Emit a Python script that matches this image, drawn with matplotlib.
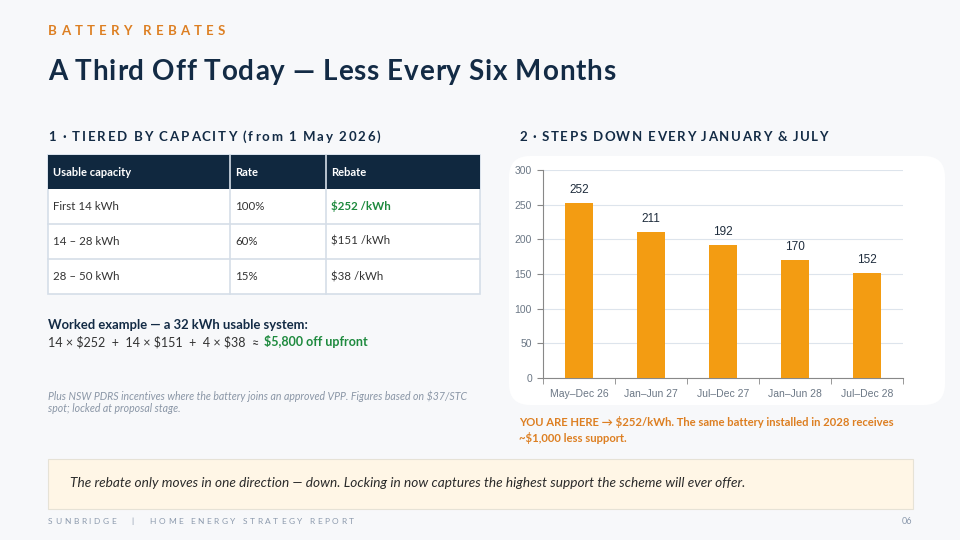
import matplotlib
matplotlib.use('Agg')
import matplotlib.pyplot as plt
from matplotlib.patches import FancyBboxPatch, Rectangle

# data
periods = ['May\u2013Dec 26', 'Jan\u2013Jun 27', 'Jul\u2013Dec 27', 'Jan\u2013Jun 28', 'Jul\u2013Dec 28']
rebates = [252, 211, 192, 170, 152]
table_header = ['Usable capacity', 'Rate', 'Rebate']
table_rows = [['First 14 kWh', '100%', '$252 /kWh'],
              ['14 \u2013 28 kWh', '60%', '$151 /kWh'],
              ['28 \u2013 50 kWh', '15%', '$38 /kWh']]

NAVY = '#132B45'
ORANGE = '#DD7F22'
GREEN = '#1E8A3E'
BAR = '#F39C12'
BG = '#F7F8FA'
FONT = ['Lato', 'DejaVu Sans']

W, H = 960, 540
fig = plt.figure(figsize=(9.6, 5.4), dpi=100, facecolor=BG)
renderer = fig.canvas.get_renderer()


def fx(x):
    return x / W


def fy(y):
    return 1 - y / H


def text(x, y, s, **kw):
    kw.setdefault('family', FONT)
    kw.setdefault('va', 'center')
    return fig.text(fx(x), fy(y), s, **kw)


def spaced(x, y, s, track, **kw):
    # draw text one char at a time with extra letter spacing (px)
    for ch in s:
        t = text(x, y, ch, **kw)
        w = t.get_window_extent(renderer).width
        if ch == ' ':
            w = kw.get('size', 10) * 0.3
        x += w + track
    return x


# header
spaced(48, 31, 'BATTERY REBATES', 4.2, size=9.5, weight='bold', color=ORANGE)
spaced(48, 72, 'A Third Off Today \u2014 Less Every Six Months', 0.9, size=20, weight='bold', color=NAVY)

spaced(48, 137, '1 \u00b7 TIERED BY CAPACITY (from 1 May 2026)', 1.8, size=9.5, weight='bold', color=NAVY)
spaced(519, 137, '2 \u00b7 STEPS DOWN EVERY JANUARY & JULY', 1.5, size=9.5, weight='bold', color=NAVY)

# table
col_x = [48, 230, 326, 480]
row_y = [155, 189, 224, 259, 294]
fig.patches.append(Rectangle((fx(48), fy(294)), fx(432), (294 - 155) / H, transform=fig.transFigure,
                             facecolor='white', edgecolor='#D5DEE8', lw=1.2))
fig.patches.append(Rectangle((fx(48), fy(189)), fx(432), 34 / H, transform=fig.transFigure,
                             facecolor='#10283F', edgecolor='none'))
for y in row_y[2:4]:
    fig.add_artist(plt.Line2D([fx(48), fx(480)], [fy(y), fy(y)], color='#D5DEE8', lw=1.2))
for x in col_x[1:3]:
    fig.add_artist(plt.Line2D([fx(x), fx(x)], [fy(155), fy(294)], color='#D5DEE8', lw=1.2))
for j, h in enumerate(table_header):
    text(col_x[j] + 5, 172, h, size=8, weight='bold', color='white')
for i, row in enumerate(table_rows):
    yc = (row_y[i + 1] + row_y[i + 2]) / 2
    for j, v in enumerate(row):
        if i == 0 and j == 2:
            text(col_x[j] + 5, yc, v, size=8.3, weight='bold', color=GREEN)
        else:
            text(col_x[j] + 5, yc, v, size=8.3, color='#333333')

# worked example
text(48, 325, 'Worked example \u2014 a 32 kWh usable system:', size=9.4, weight='bold', color=NAVY)
t = text(48, 342, '14 \u00d7 $252  +  14 \u00d7 $151  +  4 \u00d7 $38  \u2248 ', size=9, color='#333333')
xe = t.get_window_extent(renderer).x1
fig.text(xe / W + 0.002, fy(342), '$5,800 off upfront', size=9, weight='bold', color=GREEN,
         family=FONT, va='center')

text(48, 396, 'Plus NSW PDRS incentives where the battery joins an approved VPP. Figures based on $37/STC',
     size=7.6, style='italic', color='#8A96A6')
text(48, 409, 'spot; locked at proposal stage.', size=7.6, style='italic', color='#8A96A6')

# chart panel
fig.patches.append(FancyBboxPatch((fx(509), fy(405)), fx(436), (405 - 156) / H,
                                  boxstyle='round,pad=0,rounding_size=0.022', transform=fig.transFigure,
                                  facecolor='white', edgecolor='none', mutation_aspect=W / H, zorder=-1))

ax = fig.add_axes([fx(543), fy(378), fx(360), (378 - 170) / H])
ax.set_zorder(2)
ax.set_facecolor('none')
x = range(len(periods))
ax.bar(x, rebates, width=0.4, color=BAR, zorder=3)
for xi, v in zip(x, rebates):
    ax.text(xi, v + 10, str(v), ha='center', va='bottom', fontsize=8.5, color='#1F2D3D',
            family='Liberation Sans')
ax.set_xlim(-0.5, 4.5)
ax.set_ylim(0, 300)
ax.set_yticks(range(0, 301, 50))
ax.yaxis.grid(True, color='#DDE4EC', lw=0.8, zorder=0)
ax.set_xticks(list(x))
ax.set_xticklabels(periods)
ax.set_xticks([i - 0.5 for i in range(len(periods) + 1)], minor=True)
ax.tick_params(axis='x', which='major', length=0, pad=8)
ax.tick_params(axis='x', which='minor', length=4, color='#888888')
ax.tick_params(axis='y', length=4, color='#888888', pad=4)
for lab in ax.get_xticklabels() + ax.get_yticklabels():
    lab.set_family('Liberation Sans')
    lab.set_fontsize(7.5)
    lab.set_color('#6B7785')
for s in ['top', 'right']:
    ax.spines[s].set_visible(False)
for s in ['left', 'bottom']:
    ax.spines[s].set_color('#888888')
    ax.spines[s].set_linewidth(0.8)

text(519, 422, 'YOU ARE HERE \u2192 $252/kWh. The same battery installed in 2028 receives',
     size=8.1, weight='bold', color=ORANGE)
text(519, 438, '~$1,000 less support.', size=8.1, weight='bold', color=ORANGE)

# callout box
fig.patches.append(Rectangle((fx(48), fy(509)), fx(865), 50 / H, transform=fig.transFigure,
                             facecolor='#FFF6E6', edgecolor='#E6E2D6', lw=0.8))
text(70, 483, 'The rebate only moves in one direction \u2014 down. Locking in now captures the highest '
     'support the scheme will ever offer.', size=9.8, style='italic', color='#2A2A2A')

# footer
spaced(48, 521, 'SUNBRIDGE   |   HOME ENERGY STRATEGY REPORT', 2.6, size=6, color='#8C9AAD')
text(912, 521, '06', size=6.5, color='#8C9AAD', ha='right')

fig.savefig('out.png', dpi=100, facecolor=BG)
